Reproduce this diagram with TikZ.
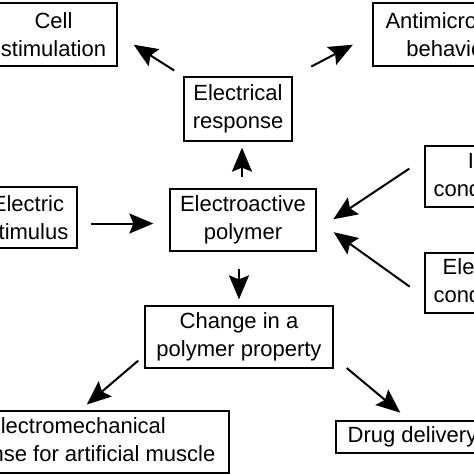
\documentclass[tikz,border=0pt]{standalone}
\usepackage{fontspec}
\setmainfont{Liberation Sans}
\usetikzlibrary{arrows.meta}
\begin{document}
\begin{tikzpicture}[x=1pt,y=-1pt,
  boite/.style={draw,line width=1.3pt,inner sep=0pt,align=center,
    font=\fontsize{22}{28}\selectfont},
  fleche/.style={line width=2pt,-{Stealth[length=24pt,width=20pt,inset=4pt]}}]
\useasboundingbox (0,0) rectangle (474,474);
% Les boites (coordonnees en pixels, y vers le bas)
\node[boite,minimum width=127,minimum height=63] (cell) at (53.5,34.5) {Cell\\stimulation};
\node[boite,minimum width=151,minimum height=63] (anti) at (448.5,34.5) {Antimicrobial\\behavior};
\node[boite,minimum width=108,minimum height=64] (resp) at (238,109) {Electrical\\response};
\node[boite,minimum width=98,minimum height=61] (stim) at (28,217.5) {Electric\\stimulus};
\node[boite,minimum width=146,minimum height=62] (poly) at (243,220) {Electroactive\\polymer};
\node[boite,minimum width=132,minimum height=61] (ion) at (491,176.5) {Ionic\\conductivity};
\node[boite,minimum width=132,minimum height=60] (elec) at (491,283) {Electronic\\conductivity};
\node[boite,minimum width=188,minimum height=62] (change) at (239,337) {Change in a\\polymer property};
\node[boite,minimum width=306,minimum height=62] (mech) at (76,442) {Electromechanical\\response for artificial muscle};
\node[boite,minimum width=153,minimum height=32] (drug) at (412.5,437) {Drug delivery};
% Les fleches
\draw[fleche,shorten <=11pt,shorten >=19pt] (resp.north west) -- (cell.east);
\draw[fleche,shorten <=21pt,shorten >=22pt] (resp.north east) -- (anti.west);
\draw[fleche,shorten <=11pt,shorten >=6pt] ([xshift=-1pt]poly.north) -- ([xshift=-1pt]poly.north |- resp.south);
\draw[fleche,shorten <=13pt,shorten >=16pt] ([yshift=-6pt]stim.east) -- ([yshift=-6pt]stim.east -| poly.west);
\draw[fleche,shorten <=18pt,shorten >=20pt] (ion.165) -- (poly.-8);
\draw[fleche,shorten <=18pt,shorten >=21pt] (elec.192) -- (poly.east);
\draw[fleche,shorten <=17pt,shorten >=6pt] (change.north |- poly.south) -- (change.north);
\draw[fleche,shorten <=8pt,shorten >=9pt] (change.191) -- ([xshift=4pt]mech.north);
\draw[fleche,shorten <=17pt,shorten >=12pt] (change.-12) -- ([xshift=-3pt]drug.north);
\end{tikzpicture}
\end{document}
